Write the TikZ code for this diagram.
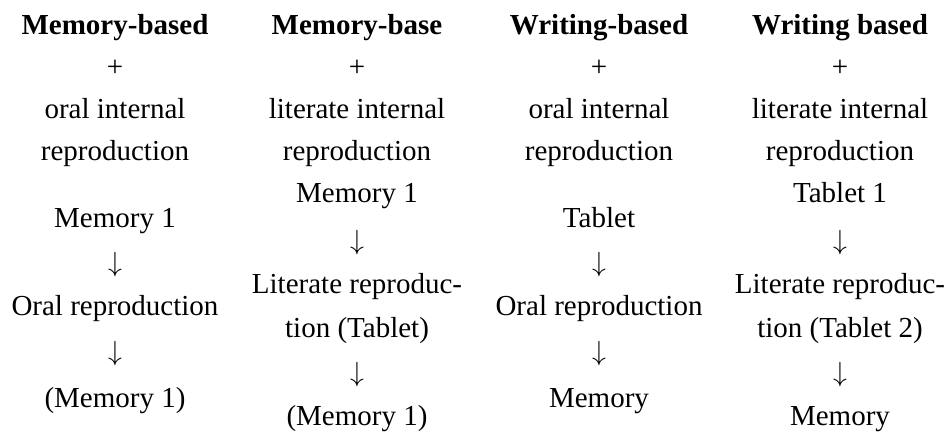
\documentclass[tikz,border=0pt]{standalone}
\usepackage{fontspec}
\setmainfont{Liberation Serif}
\begin{document}
\begin{tikzpicture}[x=0.75pt,y=-0.75pt,
  txt/.style={anchor=base,inner sep=0pt,font=\fontsize{21.75}{26}\selectfont},
  hd/.style={anchor=base,inner sep=0pt,font=\fontsize{21.75}{26}\selectfont\bfseries},
  arr/.style={anchor=center,inner sep=0pt,font=\fontsize{20.5}{24}\selectfont}]
\useasboundingbox (0,0) rectangle (949,432);
% column 1
\node[hd]  (h1)  at (115,34)  {Memory-based};
\node[txt] (p1)  at (115,76)  {+};
\node[txt] (a1)  at (115,118) {oral internal};
\node[txt] (b1)  at (115,160) {reproduction};
\node[txt] (c1)  at (115,227) {Memory 1};
\node[arr] (d1)  at (115,265) {$\downarrow$};
\node[txt] (e1)  at (115,315) {Oral reproduction};
\node[arr] (f1)  at (115,354) {$\downarrow$};
\node[txt] (g1)  at (115,407) {(Memory 1)};
% column 2
\node[hd]  (h2)  at (357,34)  {Memory-base};
\node[txt] (p2)  at (357,76)  {+};
\node[txt] (a2)  at (357,118) {literate internal};
\node[txt] (b2)  at (357,160) {reproduction};
\node[txt] (c2)  at (357,202) {Memory 1};
\node[arr] (d2)  at (357,243) {$\downarrow$};
\node[txt] (e2)  at (357,293) {Literate reproduc-};
\node[txt] (e2b) at (357,337) {tion (Tablet)};
\node[arr] (f2)  at (357,375) {$\downarrow$};
\node[txt] (g2)  at (357,425) {(Memory 1)};
% column 3
\node[hd]  (h3)  at (599,34)  {Writing-based};
\node[txt] (p3)  at (599,76)  {+};
\node[txt] (a3)  at (599,118) {oral internal};
\node[txt] (b3)  at (599,160) {reproduction};
\node[txt] (c3)  at (599,227) {Tablet};
\node[arr] (d3)  at (599,265) {$\downarrow$};
\node[txt] (e3)  at (599,315) {Oral reproduction};
\node[arr] (f3)  at (599,354) {$\downarrow$};
\node[txt] (g3)  at (599,407) {Memory};
% column 4
\node[hd]  (h4)  at (840,34)  {Writing based};
\node[txt] (p4)  at (840,76)  {+};
\node[txt] (a4)  at (840,118) {literate internal};
\node[txt] (b4)  at (840,160) {reproduction};
\node[txt] (c4)  at (840,202) {Tablet 1};
\node[arr] (d4)  at (840,243) {$\downarrow$};
\node[txt] (e4)  at (840,293) {Literate reproduc-};
\node[txt] (e4b) at (840,337) {tion (Tablet 2)};
\node[arr] (f4)  at (840,375) {$\downarrow$};
\node[txt] (g4)  at (840,425) {Memory};
\end{tikzpicture}
\end{document}
